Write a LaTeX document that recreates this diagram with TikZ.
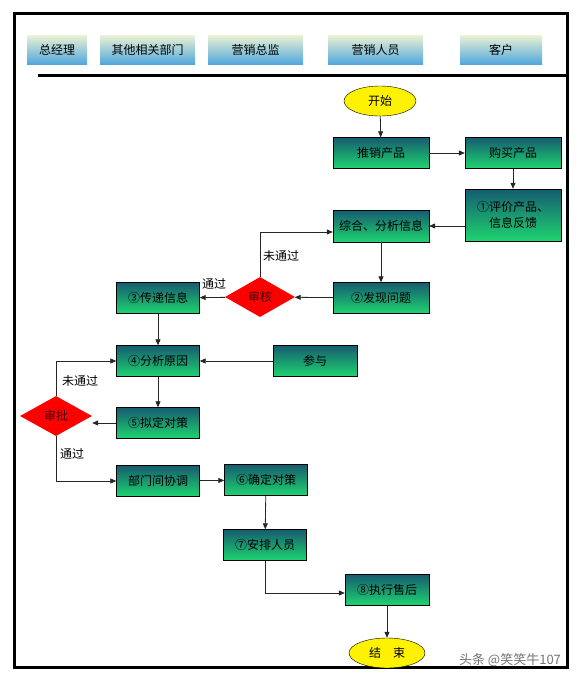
\documentclass[tikz,border=0pt]{standalone}
\usepackage{fontspec}
\setmainfont{Noto Sans CJK SC}
\usetikzlibrary{shapes.geometric,arrows.meta,positioning}
\definecolor{boxtop}{RGB}{22,92,112}
\definecolor{boxbottom}{RGB}{30,212,112}
\definecolor{headtop}{RGB}{236,242,212}
\definecolor{headbottom}{RGB}{82,168,220}
\tikzset{
    role box/.style={
        top color=headtop,bottom color=headbottom,
        minimum height=29pt,inner sep=0pt,
        font=\fontsize{12}{14}\selectfont
    },
    flow box/.style={
        draw,thin,top color=boxtop,bottom color=boxbottom,
        minimum width=83pt,minimum height=31pt,inner sep=1pt,
        font=\fontsize{12}{16}\selectfont,align=center
    },
    wide box/.style={flow box,minimum width=96pt},
    terminal/.style={
        draw,thin,ellipse,fill=yellow,inner sep=0pt,
        minimum width=72pt,minimum height=30pt,
        font=\fontsize{12}{14}\selectfont
    },
    check/.style={
        diamond,fill=red,inner sep=0pt,aspect=1.75,
        minimum width=70pt,minimum height=40pt,
        font=\fontsize{12}{14}\selectfont,text=black!75!red
    },
    branch/.style={font=\fontsize{12}{14}\selectfont},
    flow/.style={draw=black!85,line width=0.8pt,->},
    >={Triangle[length=6pt,width=5pt]}
}
\begin{document}
\begin{tikzpicture}[x=1pt,y=-1pt]
\useasboundingbox (0,0) rectangle (582,683);
% frame and header
\draw[line width=3pt] (14,13) rectangle (567,667);
\draw[line width=3pt] (38,75) -- (567,75);
\foreach \i/\x/\w/\name in {0/57/60/总经理,1/147.5/95/其他相关部门,2/255.5/95/营销总监,3/375.5/95/营销人员,4/501/82/客户}
    \node[role box,minimum width=\w pt] (role_\i) at (\x,49.5) {\name};
% flow nodes
\node[terminal] (start) at (380,101) {开始};
\node[wide box] (promote) at (381,153) {推销产品};
\node[wide box] (buy) at (513,153) {购买产品};
\node[wide box,minimum height=52pt] (feedback) at (513,215) {①评价产品、\\信息反馈};
\node[wide box,minimum height=32pt] (info) at (381,226) {综合、分析信息};
\node[wide box] (problem) at (381,298) {②发现问题};
\node[check] (check_a) at (260,297) {审核};
\node[flow box] (pass) at (158,298) {③传递信息};
\node[flow box] (cause) at (158,361) {④分析原因};
\node[flow box,minimum width=84pt] (join) at (315,361) {参与};
\node[check,minimum width=72pt] (check_b) at (56,416) {审批};
\node[flow box] (draft) at (158,423) {⑤拟定对策};
\node[flow box] (coord) at (158,481) {部门间协调};
\node[flow box] (confirm) at (266,480) {⑥确定对策};
\node[flow box] (arrange) at (265,545) {⑦安排人员};
\node[flow box,minimum width=84pt] (after) at (387,590) {⑧执行售后};
\node[terminal,minimum width=76pt] (finish) at (387,653) {结\hspace{1em}束};
% connectors
\draw[flow] (start) -- (promote);
\draw[flow] (promote) -- (buy);
\draw[flow] (buy) -- (feedback);
\draw[flow] (feedback.west |- info.east) -- (info.east);
\draw[flow] (info) -- (problem);
\draw[flow] (problem) -- (check_a);
\draw[flow] (check_a.north) |- ([yshift=-6pt]info.west);
\draw[flow] (check_a) -- (pass);
\draw[flow] (pass) -- (cause);
\draw[flow] (join) -- (cause);
\draw[flow] (cause) -- (draft);
\draw[flow] (draft.west) -- (draft.west -| check_b.east);
\draw[flow] (check_b.north) |- (cause.west);
\draw[flow] (check_b.south) |- (coord.west);
\draw[flow] (coord) -- (confirm);
\draw[flow] (confirm) -- (arrange);
\draw[flow] (arrange.south) |- ([yshift=-3pt]after.west);
\draw[flow] (after) -- (finish);
% branch labels
\node[branch] (fail_a) at (281,256) {未通过};
\node[branch] (ok_a) at (214,284) {通过};
\node[branch] (fail_b) at (80,381) {未通过};
\node[branch] (ok_b) at (72,454) {通过};
\node[font=\fontsize{13}{15}\selectfont,text=black!55] (mark) at (510,660) {头条 @笑笑牛107};
\end{tikzpicture}
\end{document}
